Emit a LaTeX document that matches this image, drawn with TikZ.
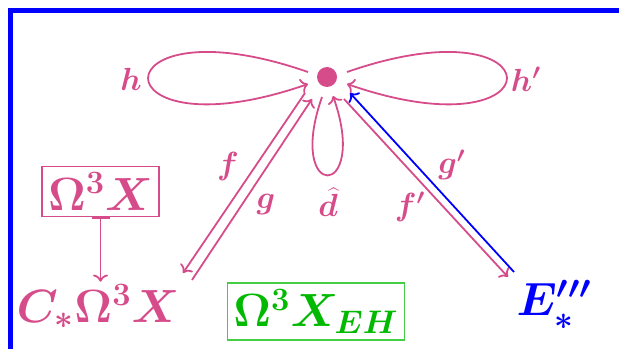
\documentclass[tikz,border=0pt]{standalone}
\usepackage{fix-cm}
\usetikzlibrary{arrows.meta}
\definecolor{loopPink}{RGB}{214,76,138}
\definecolor{ehGreen}{RGB}{0,185,0}
\definecolor{boxGreen}{RGB}{70,205,70}
\tikzset{
  bignode/.style={text=loopPink, inner sep=3pt, font=\fontsize{23.3}{28}\selectfont\boldmath},
  lbl/.style={text=loopPink, inner sep=0pt, font=\fontsize{16}{19}\selectfont\boldmath},
  pinkline/.style={draw=loopPink, line width=0.9pt}
}
\begin{document}
\begin{tikzpicture}[x=0.5pt, y=0.5pt]
            \useasboundingbox (0,0) rectangle (619,348);
            \clip (0,0) rectangle (619,348);
            % frame
            \draw[blue, line width=2.5pt] (10.5,-20) -- (10.5,337.5) -- (650,337.5);
            % nodes
            \node[fill=loopPink, circle, inner sep=0pt, minimum size=10pt] (dot) at (327,271) {};
            \node[bignode, draw=loopPink, line width=0.8pt] (omegabox) at (100.5,156.5) {$\Omega^3X$};
            \node[bignode, anchor=base] (cstar) at (98,26) {$C_*\Omega^3X$};
            \node[bignode, text=ehGreen, draw=boxGreen, line width=0.6pt] (ehbox) at (316,36.5) {$\Omega^3X_{EH}$};
            \node[bignode, text=blue, anchor=base] (estar) at (554,33) {$E'''_*$};
            % loops at the dot
            \draw[pinkline, ->] ([shift={(-19,5)}]dot.center) .. controls +(-213,74) and +(-213,-74) .. ([shift={(-19,-7)}]dot.center);
            \draw[pinkline, ->] ([shift={(20,5)}]dot.center) .. controls +(213,74) and +(213,-74) .. ([shift={(20,-7)}]dot.center);
            \draw[pinkline, ->] ([shift={(-5,-20)}]dot.center) .. controls +(-37,-105) and +(37,-105) .. ([shift={(6,-19)}]dot.center);
            % edges to the left
            \draw[pinkline, ->] ([shift={(-22,-16)}]dot.center) -- ([shift={(85,49)}]cstar.base);
            \draw[pinkline, ->] ([shift={(94,42)}]cstar.base) -- ([shift={(-15,-22)}]dot.center);
            % edges to the right
            \draw[pinkline, ->] ([shift={(17,-22)}]dot.center) -- ([shift={(-46,38)}]estar.base);
            \draw[blue, line width=0.9pt, ->] ([shift={(-40,43)}]estar.base) -- ([shift={(23,-16)}]dot.center);
            % vertical map
            \draw[pinkline, {Bar[width=9pt]}->] (omegabox.south) -- ([yshift=-2pt]omegabox.south |- cstar.north);
            % labels
            \node[lbl] (hlbl) at (131,269) {$h$};
            \node[lbl] (hplbl) at (526,269) {$h'$};
            \node[lbl] (dlbl) at (328,146) {$\widehat{d}$};
            \node[lbl] (flbl) at (228,182) {$f$};
            \node[lbl] (glbl) at (266,144) {$g$};
            \node[lbl] (gplbl) at (452,183) {$g'$};
            \node[lbl] (fplbl) at (410,141) {$f'$};
        \end{tikzpicture}
\end{document}
